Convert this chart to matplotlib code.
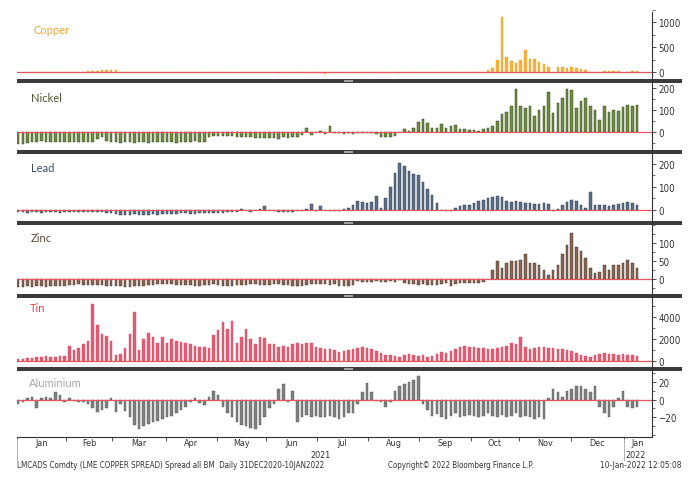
import matplotlib
matplotlib.use('Agg')
import matplotlib.pyplot as plt
import matplotlib.transforms as mtransforms
from matplotlib import font_manager
from matplotlib.font_manager import FontProperties
from matplotlib.lines import Line2D
from matplotlib.patches import Rectangle
from matplotlib.ticker import FixedLocator, MultipleLocator
import numpy as np
import pandas as pd

# business days 31DEC2020 - 10JAN2022, one bar every second business day
days = pd.bdate_range('2020-12-31', '2022-01-10')
bar_idx = np.arange(1, len(days), 2)

# values, grouped by month (Jan .. Dec 2021, Jan 2022)
copper = ([0, 0, 0, 5, 0, 0, 5, 0, 0, 5, 0] +
          [0, 0, 0, 10, 20, 30, 30, 40, 50, 50] +
          [40, 10, 0, 0, 5, 0, 0, 10, 0, 0, 0] +
          [0, 0, 0, 0, 0, 0, 0, 0, 10, 10, 0] +
          [0, 0, 0, 0, 0, -5, 0, 0, 0, -5, 0] +
          [0, 0, -10, -15, -20, -20, -20, -25, -20, -20, -25] +
          [-25, -30, -20, -15, -10, -10, -15, -15, -20, -15, -10] +
          [-15, -10, -10, -15, -10, -5, -10, 0, 5, 0, 0] +
          [0, 0, 0, 5, 0, 0, 0, 0, 0, 0, 10] +
          [0, 5, 10, 40, 80, 250, 1100, 300, 220, 190] +
          [250, 450, 260, 270, 200, 170, 100, 0, 100, 100, 90] +
          [100, 80, 70, 40, 0, 0, 5, 15, 20, 25, 15, 0] +
          [0, 25, 25])

nickel = ([-55, -55, -50, -45, -45, -40, -45, -45, -45, -45, -45] +
          [-45, -45, -45, -45, -45, -45, -30, -25, -40, -45] +
          [-45, -48, -45, -45, -48, -45, -45, -48, -45, -45, -45] +
          [-45, -45, -48, -45, -45, -45, -42, -45, -45, -22, -20] +
          [-20, -20, -20, -20, -22, -22, -25, -25, -28, -28, -28] +
          [-28, -28, -30, -25, -28, -25, -22, -15, 20, -15, 0] +
          [5, -10, 25, -5, -5, -8, -5, -8, -5, -5, -3] +
          [-5, -10, -22, -25, -25, -18, 0, 15, 5, 20, 45] +
          [60, 40, 20, 20, 35, 20, 25, 30, 15, 15, 10] +
          [10, 5, 15, 20, 25, 50, 80, 90, 120, 195] +
          [120, 110, 120, 75, 100, 120, 180, 85, 130, 155, 195] +
          [190, 110, 140, 155, 120, 100, 55, 120, 90, 100, 95, 115] +
          [125, 120, 125])

lead = ([-10, -10, -12, -10, -10, -12, -10, -10, -10, -12, -10] +
        [-10, -10, -10, -10, -8, -10, -10, -10, -12, -15] +
        [-18, -20, -20, -20, -18, -20, -20, -20, -18, -20, -18] +
        [-18, -18, -18, -15, -15, -18, -18, -15, -15, -15, -12] +
        [-12, -12, -10, -10, -8, 5, 0, -10, 0, 5, 15] +
        [0, -5, -8, -10, -8, -8, -5, -5, 5, 25, -5] +
        [15, 0, -5, -5, -5, 5, 10, 20, 40, 35, 30] +
        [35, 60, 10, 50, 100, 160, 205, 190, 170, 155, 150] +
        [120, 90, 65, 30, 0, -5, -3, 10, 15, 20, 20] +
        [30, 40, 45, 50, 55, 60, 55, 40, 35, 40] +
        [35, 30, 30, 25, 28, 30, 25, -5, 5, 20, 35] +
        [45, 40, 20, 10, 80, 20, 20, 20, 15, 20, 25, 30] +
        [35, 30, 20])

zinc = ([-22, -22, -20, -22, -20, -20, -22, -20, -20, -18, -18] +
        [-15, -15, -12, -15, -15, -15, -15, -15, -18, -18] +
        [-18, -20, -22, -22, -20, -18, -18, -15, -15, -12, -12] +
        [-12, -12, -15, -15, -15, -15, -18, -18, -15, -15, -12] +
        [-15, -18, -18, -18, -15, -15, -15, -12, -12, -15, -15] +
        [-15, -12, -12, -15, -15, -18, -18, -18, -15, -12, -12] +
        [-12, -12, -15, -12, -18, -20, -20, -15, -5, -8, -8] +
        [-8, -5, -8, -8, -5, -8, -3, -10, -12, -12, -15] +
        [-12, -15, -15, -15, -12, -10, -18, -12, -10, -10, -10] +
        [-10, -10, -8, 0, 25, 50, 30, 45, 50, 50] +
        [55, 70, 45, 45, 40, 25, 12, 25, 40, 70, 95] +
        [130, 90, 80, 60, 30, 18, 20, 40, 25, 40, 40, 45] +
        [55, 45, 30])

tin = ([200, 200, 220, 250, 300, 300, 400, 350, 380, 400, 400] +
       [1400, 1000, 1200, 1500, 1800, 5200, 3300, 2500, 2300, 1800] +
       [500, 600, 1200, 2500, 4500, 1000, 2000, 2600, 2200, 1600, 2200] +
       [1600, 2000, 1800, 1700, 1600, 1500, 1400, 1300, 1300, 1200, 2400] +
       [2800, 3600, 2900, 3700, 1600, 2200, 2900, 2000, 1500, 2200, 2100] +
       [1500, 1500, 1300, 1400, 1300, 1500, 1600, 1500, 1600, 1600, 1300] +
       [1200, 1100, 1100, 1000, 800, 900, 1000, 1100, 1200, 1300, 1200] +
       [1100, 900, 700, 500, 500, 400, 300, 500, 600, 500, 400] +
       [500, 300, 400, 600, 800, 700, 900, 1100, 1300, 1400, 1300] +
       [1300, 1200, 1200, 1100, 1100, 1200, 1300, 1400, 1600, 1500] +
       [2200, 1300, 1100, 1200, 1300, 1300, 1200, 1200, 1100, 1100, 1000] +
       [900, 700, 500, 400, 300, 500, 600, 700, 600, 600, 500, 600] +
       [500, 500, 400])

aluminium = ([-5, -3, 2, 3, -10, 2, 3, 2, 8, 5, -3] +
             [2, -2, -3, -3, -5, -10, -14, -12, -10, 2] +
             [-14, -5, -13, -20, -28, -33, -30, -27, -25, -24, -22] +
             [-20, -18, -15, -12, -8, -3, 2, -4, -6, 3, 10] +
             [5, -8, -15, -20, -25, -28, -30, -32, -33, -28, -20] +
             [-10, -5, 12, 17, -3, 10, -25, -20, -17, -20, -18] +
             [-20, -20, -18, -20, -22, -20, -15, -15, -5, 8, 18] +
             [8, -2, -3, -8, -3, 10, 15, 17, 20, 22, 26] +
             [-5, -12, -18, -16, -20, -22, -18, -15, -20, -18, -17] +
             [-18, -20, -18, -15, -18, -20, -17, -20, -18, -15] +
             [-20, -18, -20, -22, -20, -22, 2, 12, 8, 3, 10] +
             [12, 15, 15, 12, 8, 15, -8, -15, -20, -8, 2, 10] +
             [-8, -10, -8])

names = ['Copper', 'Nickel', 'Lead', 'Zinc', 'Tin', 'Aluminium']
series = [copper, nickel, lead, zinc, tin, aluminium]
month_labels = ['Jan', 'Feb', 'Mar', 'Apr', 'May', 'Jun', 'Jul', 'Aug',
                'Sep', 'Oct', 'Nov', 'Dec', 'Jan']

# styling
bar_colors = ['#f5b13c', '#6f8f3e', '#5b7089', '#8a6652', '#e35b73', '#808080']
edge_colors = ['#f0a830', '#2a3318', '#26303d', '#3a2a22', '#e04f69', '#555555']
title_colors = ['#f0a63a', '#4b5a35', '#3f4f68', '#5b463a', '#e5424f', '#a9a9a9']
panels = [(10, 80), (84, 151), (155, 222), (226, 295), (299, 368), (372, 438)]
ylims = [(-140, 1260), (-82, 223), (-48, 243), (-41, 151), (-580, 5780), (-42, 32)]
major_ticks = [[0, 500, 1000], [0, 100, 200], [0, 100, 200], [0, 50, 100],
               [0, 2000, 4000], [-20, 0, 20]]
minor_step = [250, 50, 50, 25, 1000, 10]
title_pos = [(33, 30), (31, 99), (31, 169), (31, 239), (30, 309), (29, 384)]

W, H = 700, 485
fx = lambda px: px / W
fy = lambda py: 1 - py / H


# a narrow face for the Bloomberg-style small print
def narrow_font():
    regular = [f for f in font_manager.fontManager.ttflist
               if f.style == 'normal' and f.weight in (400, 'normal', 'regular')]
    for f in regular:
        if f.name == 'Liberation Sans Narrow':
            return f.fname
    for f in regular:
        if f.name == 'DejaVu Sans' and f.stretch in ('condensed', 'semi-condensed'):
            return f.fname
    return None


nf = narrow_font()
def small(size=6.5):
    if nf:
        return FontProperties(fname=nf, size=size)
    return FontProperties(family='DejaVu Sans', size=size - 0.8)


fig = plt.figure(figsize=(W / 100, H / 100), dpi=100)
x_left, x_right = 17, 652
xlim = (0.5, 273.5)

axes = []
for i, vals in enumerate(series):
    top, bot = panels[i]
    ax = fig.add_axes([fx(x_left), fy(bot), fx(x_right) - fx(x_left), (bot - top) / H])
    ax.bar(bar_idx, vals, width=1.1, color=bar_colors[i], edgecolor=edge_colors[i],
           linewidth=0.3, zorder=2)
    ax.axhline(0, color='#e8555e', lw=0.9, zorder=3)
    ax.set_xlim(*xlim)
    ax.set_ylim(*ylims[i])
    ax.yaxis.tick_right()
    ax.yaxis.set_major_locator(FixedLocator(major_ticks[i]))
    ax.yaxis.set_minor_locator(MultipleLocator(minor_step[i]))
    ax.tick_params(axis='y', which='major', direction='out', length=3, width=0.6,
                   color='#333333', pad=1.5, labelcolor='#333333')
    ax.tick_params(axis='y', which='minor', direction='out', length=2, width=0.5,
                   color='#333333')
    for lbl in ax.get_yticklabels():
        lbl.set_fontproperties(small(7))
    for s in ax.spines.values():
        s.set_visible(False)
    ax.set_xticks([])
    tx, ty = title_pos[i]
    fig.text(fx(tx), fy(ty), names[i], color=title_colors[i], fontsize=8,
             family=['Lato', 'DejaVu Sans'], va='center', ha='left')
    axes.append(ax)

# thick separators between panels
for yc in [82, 153, 224, 297, 370]:
    fig.add_artist(Rectangle((fx(17), fy(yc + 2.2)), fx(682) - fx(17), 4.4 / H,
                             color='#3c3c3c', lw=0))
    fig.add_artist(Rectangle((fx(344), fy(yc + 1.4)), 9 / W, 2.8 / H,
                             color='#a0a0a0', lw=0))

# continuous right value axis
fig.add_artist(Line2D([fx(x_right)] * 2, [fy(13), fy(438)], color='#333333', lw=0.8))

# bottom time axis
ax = axes[-1]
ax.spines['bottom'].set_visible(True)
ax.spines['bottom'].set_color('#333333')
ax.spines['bottom'].set_linewidth(0.8)
month_starts = pd.date_range('2021-01-01', '2022-01-01', freq='MS')
tick_pos = [days.searchsorted(m) - 0.5 for m in month_starts]
edges = tick_pos + [xlim[1]]
mid_pos = [(edges[j] + edges[j + 1]) / 2 for j in range(len(tick_pos))]
ax.set_xticks(tick_pos)
ax.set_xticklabels([])
ax.set_xticks(mid_pos, minor=True)
ax.set_xticklabels(month_labels, minor=True)
ax.tick_params(axis='x', which='major', direction='out', length=3, width=0.6,
               color='#333333')
ax.tick_params(axis='x', which='minor', length=0, pad=0.8, labelcolor='#333333')
for lbl in ax.get_xticklabels(minor=True):
    lbl.set_fontproperties(small(6.5))

# year row
trans = mtransforms.blended_transform_factory(ax.transData, fig.transFigure)
for xpos in [tick_pos[0], tick_pos[-1]]:
    fig.add_artist(Line2D([xpos, xpos], [fy(440), fy(461)], transform=trans,
                          color='#b0b0b0', lw=0.7))
fig.text((tick_pos[0] + tick_pos[-1]) / 2, fy(455.5), '2021', transform=trans,
         ha='center', va='center', fontproperties=small(6.5), color='#333333')
fig.text((tick_pos[-1] + xlim[1]) / 2 - 1, fy(455.5), '2022', transform=trans,
         ha='center', va='center', fontproperties=small(6.5), color='#333333')

# footer, scaled so each piece spans the width it has in the original
footer = [('LMCADS Comdty (LME COPPER SPREAD) Spread all BM  Daily 31DEC2020-10JAN2022',
           17, 'left', 305),
          ('Copyright\u00a9 2022 Bloomberg Finance L.P.', 388, 'left', 147),
          ('10-Jan-2022 12:05:08', 681, 'right', 80)]
renderer = fig.canvas.get_renderer()
for txt, xp, ha, width in footer:
    t = fig.text(fx(xp), fy(466), txt, ha=ha, va='center', color='#333333',
                 fontproperties=small(6.5))
    w = t.get_window_extent(renderer).width
    t.set_fontproperties(small(6.5 * width / w if nf else (6.5 * width / w) + 0.8))

fig.savefig('out.png', dpi=100)
